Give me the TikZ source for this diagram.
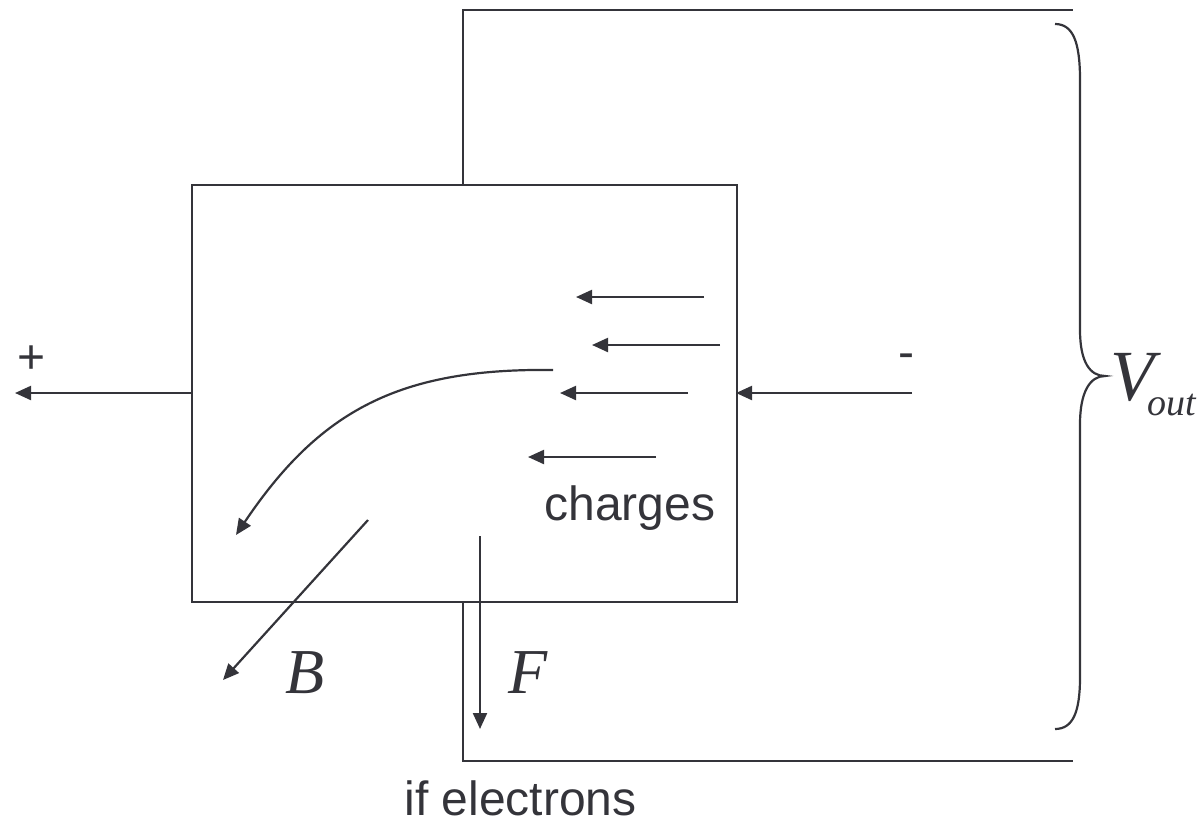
\documentclass[tikz,border=0pt]{standalone}
\usepackage{fontspec}
\setmainfont{Liberation Sans}
\newfontfamily\serifit{Liberation Serif}
\usetikzlibrary{arrows.meta}
\definecolor{ink}{RGB}{52,52,58}
\begin{document}
\begin{tikzpicture}[x=0.5pt,y=-0.5pt,
  wire/.style={draw=ink,line width=1.1pt},
  arr/.style={draw=ink,line width=1.1pt,-{Triangle[length=8pt,width=7pt]}},
  lab/.style={text=ink,inner sep=0pt,font=\fontsize{24}{24}\selectfont},
  vec/.style={text=ink,inner sep=0pt,font=\serifit\itshape\fontsize{32}{32}\selectfont}]
\useasboundingbox (0,0) rectangle (1203,824);
% box
\node[wire,minimum width=272.5pt,minimum height=208.5pt,inner sep=0pt,anchor=north west] (box) at (191,184) {};
% wires
\coordinate (tw) at (463,184);
\coordinate (tc) at (463,10);
\coordinate (te) at (1073,10);
\coordinate (bw) at (463,601);
\coordinate (bc) at (463,761);
\coordinate (be) at (1073,761);
\draw[wire] (tw) -- (tc) -- (te);
\draw[wire] (bw) -- (bc) -- (be);
% plus / minus leads
\coordinate (pl) at (191,393);
\coordinate (pe) at (15,393);
\draw[arr] (pl) -- (pe);
\node[lab] (plus) at (32,360) {+};
\coordinate (ms) at (912,393);
\coordinate (mr) at (736,393);
\draw[arr] (ms) -- (mr);
\node[lab] (minus) at (906,361) {-};
% charge arrows
\coordinate (a1s) at (704,297); \coordinate (a1e) at (576,297);
\coordinate (a2s) at (720,345); \coordinate (a2e) at (592,345);
\coordinate (a3s) at (688,393); \coordinate (a3e) at (560,393);
\coordinate (a4s) at (656,457); \coordinate (a4e) at (528,457);
\draw[arr] (a1s) -- (a1e);
\draw[arr] (a2s) -- (a2e);
\draw[arr] (a3s) -- (a3e);
\draw[arr] (a4s) -- (a4e);
\node[lab,anchor=base west] (charges) at (544,520) {charges};
% curved arrow
\coordinate (cs) at (553,370);
\coordinate (ce) at (236,535);
\draw[arr] (cs) .. controls (400,368) and (320,410) .. (ce);
% B and F
\coordinate (bs) at (368,520); \coordinate (be2) at (223,680);
\draw[arr] (bs) -- (be2);
\node[vec] (B) at (305,673) {B};
\coordinate (fs) at (480,536); \coordinate (fe) at (480,729);
\draw[arr] (fs) -- (fe);
\node[vec] (F) at (528,673) {F};
\node[lab,anchor=base west] (ifel) at (404,815) {if electrons};
% brace
\draw[wire] (1055,24) .. controls (1073,24) and (1080,42) .. (1080,80)
  -- (1080,330) .. controls (1080,362) and (1090,376) .. (1105,376)
  .. controls (1090,376) and (1080,392) .. (1080,424)
  -- (1080,677) .. controls (1080,712) and (1073,729) .. (1055,729);
\node[text=ink,inner sep=0pt,anchor=base west] (vout) at (1110,400)
  {\serifit\itshape\fontsize{36}{36}\selectfont V\hspace{-3.5pt}\raisebox{-7.5pt}{\fontsize{19}{19}\selectfont out}};
\end{tikzpicture}
\end{document}
